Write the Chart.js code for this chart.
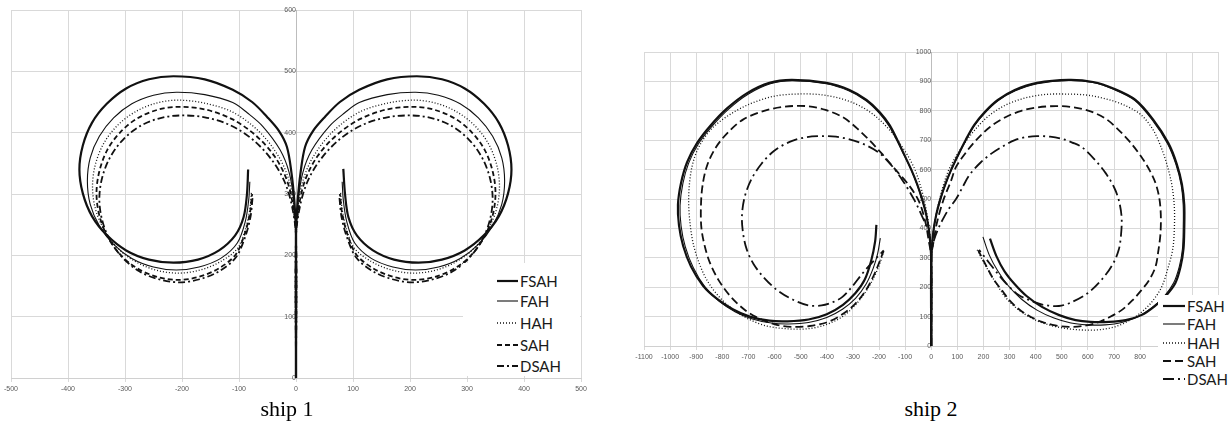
<!DOCTYPE html>
<html>
<head>
<meta charset="utf-8">
<script src="https://cdn.jsdelivr.net/npm/chart.js@4.4.0/dist/chart.umd.min.js"></script>
<style>
html, body { margin: 0; padding: 0; background: #fff; width: 1229px; height: 423px; overflow: hidden; }
#c1 { position: absolute; left: 0; top: 0; }
#c2 { position: absolute; left: 620px; top: 0; }
.legend { position: absolute; background: #fff; font-family: Lato, "Open Sans", sans-serif; font-size: 15px; color: #1a1a1a; }
.legend .row { position: absolute; left: 0; height: 16px; line-height: 16px; white-space: nowrap; }
.legend svg { position: absolute; top: 3px; }
.legend span { position: absolute; top: 0; }
.cap { position: absolute; top: 396px; width: 120px; text-align: center; font-family: "Liberation Serif", "Times New Roman", serif; font-size: 22px; color: #000; }
</style>
</head>
<body>
<canvas id="c1" width="600" height="400"></canvas>
<canvas id="c2" width="609" height="380"></canvas>
<div class="legend" id="lg1" style="left:463px;top:263px;width:117px;height:113px;"></div>
<div class="legend" id="lg2" style="left:1158px;top:295px;width:71px;height:95px;"></div>
<div class="cap" style="left:227px;">ship 1</div>
<div class="cap" style="left:871px;">ship 2</div>
<script>
// series names
const series = ['FSAH', 'FAH', 'HAH', 'SAH', 'DSAH'];

// ship 1, port turn (L) and starboard turn (R), [x, y] in metres
const fsahL1 = [[0,0],[0,200],[0,240],[-3,290],[-8,335],[-16,377],[-30,403],[-51,426],[-77,450],[-111,470],[-160,487],[-215,492],[-258,487],[-298,472],[-332,447],[-358,416],[-374,379],[-380,340],[-374,301],[-358,264],[-332,233],[-298,208],[-258,193],[-215,188],[-172,193],[-135,208],[-107,232],[-92,262],[-86,300],[-84,340]];
const fahL1 = [[0,0],[0,230],[-4,290],[-12,335],[-28,372],[-58,410],[-85,432],[-111,449],[-160,462],[-210,466],[-250,461],[-288,447],[-320,424],[-345,394],[-361,359],[-366,321],[-361,283],[-345,248],[-320,218],[-288,195],[-250,181],[-210,176],[-170,181],[-132,195],[-103,220],[-89,255],[-83,290],[-81,320]];
const hahL1 = [[0,0],[0,230],[-5,290],[-15,330],[-33,365],[-65,402],[-110,433],[-160,448],[-207,453],[-246,448],[-282,434],[-313,412],[-337,383],[-352,348],[-357,312],[-352,276],[-337,242],[-313,212],[-282,190],[-246,176],[-207,171],[-168,176],[-132,190],[-102,212],[-88,245],[-81,275],[-78,305]];
const sahL1 = [[0,0],[0,230],[-6,285],[-17,325],[-38,362],[-70,395],[-112,422],[-160,438],[-207,442],[-244,437],[-279,423],[-308,401],[-331,372],[-345,337],[-350,301],[-345,265],[-331,231],[-308,201],[-279,179],[-244,165],[-207,160],[-170,165],[-135,179],[-106,201],[-90,235],[-81,268],[-77,300]];
const dsahL1 = [[0,0],[0,230],[-7,280],[-20,320],[-42,355],[-75,388],[-115,412],[-160,425],[-205,428],[-241,423],[-275,410],[-304,388],[-326,360],[-340,327],[-345,292],[-340,257],[-326,224],[-304,196],[-275,174],[-241,161],[-205,156],[-169,161],[-135,174],[-106,196],[-90,228],[-80,262],[-76,296]];

const fsahR1 = [[0,0],[0,200],[0,240],[3,290],[8,335],[16,377],[30,403],[51,426],[77,450],[111,470],[160,487],[212,492],[256,487],[296,472],[330,447],[356,416],[372,379],[378,340],[372,301],[356,264],[330,233],[296,208],[256,193],[215,188],[172,193],[135,208],[107,232],[92,262],[86,300],[83,341]];
const fahR1 = [[0,0],[0,230],[4,290],[12,335],[28,372],[58,410],[85,432],[111,449],[160,462],[210,466],[250,461],[288,447],[320,424],[345,394],[361,359],[366,321],[361,283],[345,248],[320,218],[288,195],[250,181],[210,176],[170,181],[132,195],[103,220],[89,255],[83,290],[81,320]];
const hahR1 = [[0,0],[0,230],[5,290],[15,330],[33,365],[65,402],[110,433],[160,448],[207,453],[246,448],[282,434],[313,412],[337,383],[352,348],[357,312],[352,276],[337,242],[313,212],[282,190],[246,176],[207,171],[168,176],[132,190],[102,212],[88,245],[81,275],[78,305]];
const sahR1 = [[0,0],[0,230],[6,285],[17,325],[38,362],[70,395],[112,422],[160,438],[207,442],[244,437],[279,423],[308,401],[331,372],[345,337],[350,301],[345,265],[331,231],[308,201],[279,179],[244,165],[207,160],[170,165],[135,179],[106,201],[90,235],[81,268],[77,300]];
const dsahR1 = [[0,0],[0,230],[7,280],[20,320],[42,355],[75,388],[115,412],[160,425],[205,428],[241,423],[275,410],[304,388],[326,360],[340,327],[345,292],[340,257],[326,224],[304,196],[275,174],[241,161],[205,156],[169,161],[135,174],[106,196],[90,228],[80,262],[76,296]];

// ship 2
const fsahL2 = [[0,0],[0,293],[-8,388],[-19,446],[-34,497],[-53,548],[-76,599],[-103,650],[-130,701],[-160,752],[-198,796],[-248,837],[-313,871],[-401,895],[-534,905],[-620,895],[-705,860],[-782,808],[-845,750],[-897,690],[-935,625],[-958,555],[-970,480],[-966,410],[-950,340],[-920,270],[-874,205],[-820,160],[-760,125],[-695,100],[-620,86],[-550,84],[-470,90],[-400,108],[-338,140],[-290,180],[-255,225],[-230,290],[-215,355],[-210,412]];
const fahL2 = [[0,0],[0,293],[-8,388],[-19,446],[-35,497],[-54,548],[-77,599],[-104,650],[-132,700],[-163,750],[-201,794],[-251,835],[-316,868],[-402,892],[-530,902],[-616,892],[-700,857],[-777,805],[-840,747],[-892,687],[-929,622],[-951,553],[-962,478],[-958,408],[-942,338],[-911,266],[-866,200],[-812,152],[-750,116],[-685,92],[-612,78],[-545,75],[-470,80],[-400,97],[-340,125],[-290,162],[-250,210],[-222,265],[-205,315],[-195,367]];
const hahL2 = [[0,0],[0,300],[-8,400],[-28,500],[-57,588],[-82,635],[-111,677],[-155,730],[-210,779],[-270,815],[-340,840],[-425,855],[-515,857],[-600,850],[-690,825],[-770,788],[-840,740],[-887,682],[-912,625],[-925,560],[-929,490],[-924,420],[-912,350],[-890,285],[-859,224],[-815,170],[-760,125],[-700,92],[-630,68],[-542,58],[-470,59],[-405,72],[-340,100],[-285,145],[-240,200],[-205,262],[-180,327]];
const sahL2 = [[0,0],[0,300],[-10,360],[-22,420],[-46,490],[-84,545],[-149,612],[-190,655],[-237,700],[-290,745],[-340,779],[-405,803],[-477,816],[-560,814],[-640,800],[-721,770],[-780,725],[-825,675],[-858,615],[-876,545],[-882,473],[-880,400],[-866,335],[-847,282],[-815,225],[-770,170],[-710,120],[-650,90],[-592,72],[-530,65],[-465,68],[-401,80],[-345,105],[-295,140],[-250,190],[-215,250],[-183,322]];
const dsahL2 = [[0,0],[0,300],[-8,384],[-34,439],[-65,497],[-111,565],[-150,612],[-198,656],[-255,685],[-313,703],[-365,712],[-416,714],[-480,710],[-540,695],[-600,665],[-650,620],[-690,565],[-715,505],[-725,440],[-720,380],[-706,327],[-680,278],[-640,232],[-590,190],[-531,158],[-470,138],[-420,138],[-380,148],[-340,167],[-300,205],[-265,245],[-225,285],[-182,325]];

const fsahR2 = [[0,0],[0,293],[8,388],[19,446],[34,497],[53,548],[76,599],[103,650],[132,701],[165,752],[205,796],[255,837],[320,871],[405,895],[527,905],[620,898],[700,875],[782,837],[850,770],[908,690],[940,620],[960,550],[969,480],[969,400],[966,330],[955,270],[935,214],[900,172],[855,135],[805,105],[745,88],[680,82],[610,82],[553,88],[490,105],[424,133],[365,170],[320,210],[280,255],[250,305],[225,365]];
const fahR2 = [[0,0],[0,293],[8,388],[19,446],[35,497],[54,548],[77,599],[104,650],[133,700],[166,750],[207,794],[257,835],[322,868],[406,892],[525,903],[618,896],[698,873],[780,835],[847,768],[905,688],[937,618],[957,548],[965,478],[965,398],[962,330],[950,270],[928,214],[893,170],[845,130],[793,100],[730,80],[665,72],[595,72],[535,78],[470,95],[405,122],[345,160],[295,205],[255,255],[222,310],[198,371]];
const hahR2 = [[0,0],[0,300],[10,400],[32,500],[62,588],[88,635],[118,677],[162,730],[215,779],[275,815],[345,840],[430,855],[515,857],[600,853],[680,838],[750,815],[805,785],[850,735],[882,672],[905,610],[922,545],[931,473],[931,400],[925,330],[905,260],[882,200],[845,150],[805,115],[755,85],[706,66],[650,56],[603,54],[550,56],[500,62],[450,72],[400,88],[336,122],[285,165],[248,214],[210,270],[176,327]];
const sahR2 = [[0,0],[0,300],[10,360],[22,420],[46,495],[75,560],[95,609],[130,655],[172,700],[225,745],[286,779],[345,800],[401,811],[477,816],[545,812],[610,798],[665,775],[706,745],[760,695],[805,643],[838,595],[859,554],[873,505],[879,450],[878,384],[870,325],[859,270],[835,225],[805,190],[770,155],[729,122],[680,97],[630,78],[580,68],[527,65],[475,70],[424,82],[375,102],[336,125],[300,155],[270,190],[240,225],[215,265],[180,325]];
const dsahR2 = [[0,0],[0,300],[11,361],[30,405],[50,440],[70,470],[95,500],[120,540],[145,580],[190,625],[233,656],[280,682],[320,700],[360,710],[405,714],[455,712],[500,705],[540,692],[576,677],[625,635],[668,588],[700,540],[718,497],[729,439],[727,380],[718,327],[695,278],[655,228],[600,180],[540,150],[489,136],[430,140],[393,150],[336,173],[295,205],[260,240],[220,285],[183,327]];

// line look per series
const widths = [2.2, 1.1, 1.3, 1.8, 1.8];
const dashes1 = [[], [], [1, 2], [5, 3], [7, 3, 2, 3]];
const dashes2 = [[], [], [1, 2], [8, 4], [11, 4, 2, 4]];

function toPts(arr) { return arr.map(p => ({ x: p[0], y: p[1] })); }

function makeSets(left, right, dashes) {
    const out = [];
    [left, right].forEach(group => {
        group.forEach((arr, i) => {
            out.push({
                label: series[i],
                data: toPts(arr),
                showLine: true,
                borderColor: '#111',
                borderWidth: widths[i],
                borderDash: dashes[i],
                pointRadius: 0,
                tension: 0.33,
                fill: false
            });
        });
    });
    return out;
}

function makeChart(id, sets, xMin, xMax, yMax, padding) {
    const tickFont = { family: 'Liberation Sans, Arial, sans-serif', size: 7 };
    return new Chart(document.getElementById(id), {
        type: 'scatter',
        data: { datasets: sets },
        options: {
            responsive: false,
            animation: false,
            events: [],
            layout: { padding: padding },
            plugins: { legend: { display: false }, tooltip: { enabled: false } },
            scales: {
                x: {
                    type: 'linear', position: 'bottom', min: xMin, max: xMax,
                    ticks: { stepSize: 100, autoSkip: false, maxRotation: 0, color: '#595959', font: tickFont, padding: 3,
                             callback: v => String(v) },
                    grid: { color: '#d9d9d9', tickLength: 4 },
                    border: { color: '#d0d0d0' },
                    afterFit: s => { s.height = 20; }
                },
                y: {
                    type: 'linear', position: { x: 0 }, min: 0, max: yMax,
                    ticks: { stepSize: 100, color: '#595959', font: tickFont, padding: 3, callback: v => String(v) },
                    grid: { color: '#d9d9d9', tickLength: 5 },
                    border: { color: '#bdbdbd' },
                    afterFit: s => { s.width = 0; }
                }
            }
        }
    });
}

makeChart('c1', makeSets([fsahL1, fahL1, hahL1, sahL1, dsahL1], [fsahR1, fahR1, hahR1, sahR1, dsahR1], dashes1),
    -500, 500, 600, { left: 11, top: 10, right: 19, bottom: 2 });
makeChart('c2', makeSets([fsahL2, fahL2, hahL2, sahL2, dsahL2], [fsahR2, fahR2, hahR2, sahR2, dsahR2], dashes2),
    -1100, 1100, 1000, { left: 24, top: 52, right: 9, bottom: 14 });

// legends drawn as html over the plot
function makeLegend(id, rowYs, lineX, lineW, textX, dashes) {
    const box = document.getElementById(id);
    series.forEach((name, i) => {
        const row = document.createElement('div');
        row.className = 'row';
        row.style.top = (rowYs[i] - 8) + 'px';
        const dash = dashes[i].length ? dashes[i].join(' ') : 'none';
        row.innerHTML = '<svg width="' + lineW + '" height="10" style="left:' + lineX + 'px">' +
            '<line x1="0" y1="5" x2="' + lineW + '" y2="5" stroke="#111" stroke-width="' + widths[i] +
            '" stroke-dasharray="' + dash + '"/></svg>' +
            '<span style="left:' + textX + 'px">' + name + '</span>';
        box.appendChild(row);
    });
}
makeLegend('lg1', [18, 38, 60, 82, 103], 34, 21, 57, dashes1);
makeLegend('lg2', [11, 29, 48, 66, 84], 5, 22, 29, dashes2);
</script>
</body>
</html>
